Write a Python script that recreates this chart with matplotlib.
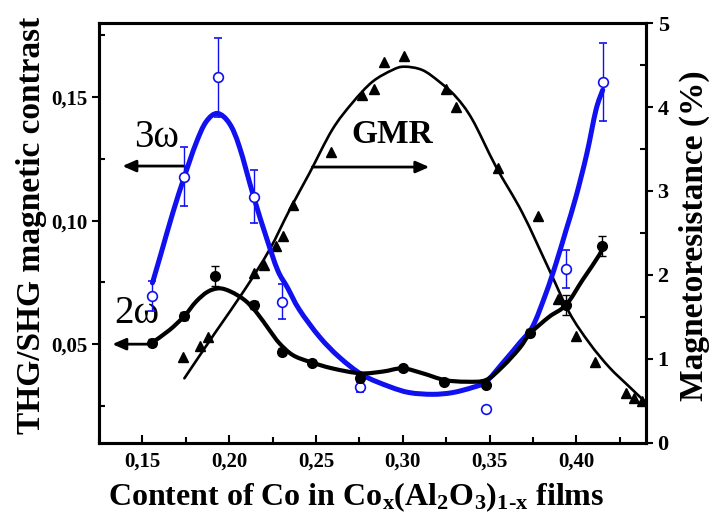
import matplotlib
matplotlib.use('Agg')
import numpy as np
import matplotlib.pyplot as plt
from matplotlib.path import Path
from matplotlib.patches import PathPatch
from matplotlib.ticker import FixedLocator, FixedFormatter, MultipleLocator

plt.rcParams['font.family'] = ['Liberation Serif', 'DejaVu Serif']
plt.rcParams['font.weight'] = 'bold'
plt.rcParams['mathtext.fontset'] = 'custom'
plt.rcParams['mathtext.rm'] = 'Liberation Serif:bold'
plt.rcParams['mathtext.it'] = 'Liberation Serif:bold'
plt.rcParams['mathtext.bf'] = 'Liberation Serif:bold'

# Co content of the films
x_3w = [0.1558, 0.1742, 0.1934, 0.2141, 0.2305, 0.2756, 0.3480, 0.3940, 0.4155]
y_3w = [0.0695, 0.1178, 0.1580, 0.1097, 0.0672, 0.0328, 0.0236, 0.0803, 0.1562]
err_3w = [0.006, 0.012, 0.016, 0.0107, 0.007, 0.002, 0.0, 0.0077, 0.0157]

x_2w = [0.1556, 0.1742, 0.1916, 0.2145, 0.2305, 0.2479, 0.2756, 0.3000, 0.3240,
        0.3480, 0.3735, 0.3940, 0.4150]
y_2w = [0.0506, 0.0614, 0.0776, 0.0659, 0.0470, 0.0425, 0.0362, 0.0402, 0.0348,
        0.0335, 0.0547, 0.0659, 0.0897]
err_2w = [0.0015, 0.0015, 0.004, 0.0015, 0.0015, 0.001, 0.001, 0.001, 0.001,
          0.001, 0.0015, 0.004, 0.004]

x_gmr = [0.1732, 0.1832, 0.1880, 0.2145, 0.2203, 0.2270, 0.2308, 0.2366, 0.2587,
         0.2767, 0.2836, 0.2894, 0.3009, 0.3250, 0.3307, 0.3547, 0.3777, 0.3893,
         0.3998, 0.4109, 0.4286, 0.4334, 0.4377]
mr_gmr = [1.02, 1.155, 1.265, 2.02, 2.12, 2.34, 2.46, 2.83, 3.46,
          4.14, 4.22, 4.54, 4.61, 4.22, 4.00, 3.27, 2.70, 1.72,
          1.27, 0.96, 0.59, 0.53, 0.50]

# fitted curves
fit3_x = [0.1558, 0.1608, 0.1675, 0.1742, 0.1809, 0.1867, 0.1932, 0.2001, 0.2059,
          0.2141, 0.2213, 0.2279, 0.2335, 0.2404, 0.2520, 0.2635, 0.2769, 0.2924,
          0.3038, 0.3172, 0.3287, 0.3403, 0.3480, 0.3575, 0.3672, 0.3748, 0.3825,
          0.3883, 0.3941, 0.3998, 0.4060, 0.4113, 0.4152]
fit3_y = [0.0748, 0.0868, 0.1031, 0.1178, 0.1313, 0.1400, 0.1434, 0.1394, 0.1299,
          0.1097, 0.0935, 0.0800, 0.0730, 0.0640, 0.0530, 0.0447, 0.0375, 0.0328,
          0.0304, 0.0297, 0.0304, 0.0325, 0.0348, 0.0423, 0.0504, 0.0571, 0.0706,
          0.0827, 0.0962, 0.1097, 0.1270, 0.1448, 0.1529]

fit2_x = [0.1556, 0.1656, 0.1742, 0.1809, 0.1876, 0.1944, 0.2011, 0.2088, 0.2155,
          0.2232, 0.2289, 0.2366, 0.2462, 0.2594, 0.2756, 0.2884, 0.2999, 0.3115,
          0.3240, 0.3365, 0.3480, 0.3575, 0.3672, 0.3735, 0.3844, 0.3941, 0.4036,
          0.4132, 0.4151]
fit2_y = [0.0506, 0.0557, 0.0614, 0.0672, 0.0712, 0.0726, 0.0712, 0.0679, 0.0631,
          0.0557, 0.0504, 0.0456, 0.0429, 0.0402, 0.0382, 0.0389, 0.0402, 0.0382,
          0.0355, 0.0348, 0.0355, 0.0409, 0.0483, 0.0544, 0.0611, 0.0659, 0.0760,
          0.0861, 0.0897]

fitg_x = [0.1742, 0.1915, 0.2088, 0.2232, 0.2347, 0.2462, 0.2594, 0.2710, 0.2825,
          0.2940, 0.3009, 0.3113, 0.3211, 0.3307, 0.3401, 0.3537, 0.3689, 0.3844,
          0.3960, 0.4075, 0.4190, 0.4305, 0.4401]
fitg_y = [0.77, 1.30, 1.82, 2.30, 2.77, 3.21, 3.73, 4.05, 4.30,
          4.44, 4.48, 4.44, 4.30, 4.12, 3.85, 3.29, 2.74, 2.06,
          1.55, 1.19, 0.90, 0.67, 0.48]

x_ticks = [0.15, 0.20, 0.25, 0.30, 0.35, 0.40]
x_labels = ['0,15', '0,20', '0,25', '0,30', '0,35', '0,40']
y_ticks = [0.05, 0.10, 0.15]
y_labels = ['0,05', '0,10', '0,15']
mr_ticks = [0, 1, 2, 3, 4, 5]

BLUE = '#1010f0'


def smooth_path(xs, ys):
    # cubic Bezier segments through the points (Catmull-Rom tangents)
    p = np.column_stack([xs, ys])
    ext = np.vstack([p[0], p, p[-1]])
    verts = [p[0]]
    codes = [Path.MOVETO]
    for i in range(len(p) - 1):
        p0, p1, p2, p3 = ext[i], ext[i + 1], ext[i + 2], ext[i + 3]
        verts += [p1 + (p2 - p0) / 6, p2 - (p3 - p1) / 6, p2]
        codes += [Path.CURVE4] * 3
    return Path(verts, codes)


def draw_curve(a, xs, ys, **kw):
    a.add_patch(PathPatch(smooth_path(xs, ys), fill=False, capstyle='round',
                          joinstyle='round', **kw))


fig = plt.figure(figsize=(7.12, 5.23), dpi=100)
ax = fig.add_axes([0.139, 0.153, 0.768, 0.803])
ax2 = ax.twinx()
ax.set_zorder(ax2.get_zorder() + 1)
ax.patch.set_visible(False)

# GMR on the right axis
draw_curve(ax2, fitg_x, fitg_y, edgecolor='black', lw=1.9)
ax2.plot(x_gmr, mr_gmr, ls='none', marker='^', ms=7, color='black')
ax2.set_ylim(0, 5)

# 3w and 2w on the left axis
draw_curve(ax, fit3_x, fit3_y, edgecolor=BLUE, lw=3.6, zorder=2)
ax.errorbar(x_3w, y_3w, yerr=err_3w, fmt='o', ms=7, mfc='white', mec=BLUE, mew=1.2,
            ecolor=BLUE, elinewidth=1.0, capsize=3, capthick=1.0, zorder=4)
draw_curve(ax, fit2_x, fit2_y, edgecolor='black', lw=3.0, zorder=3)
ax.errorbar(x_2w, y_2w, yerr=err_2w, fmt='o', ms=7, color='black',
            elinewidth=1.0, capsize=3, capthick=1.0, zorder=4)

ax.set_xlim(0.125, 0.44)
ax.set_ylim(0.01, 0.18)

# curve labels with arrows pointing to their axes
arrow = dict(arrowstyle='-|>,head_length=0.8,head_width=0.35', lw=2, color='black',
             shrinkA=0, shrinkB=0)
ax.annotate('', xy=(0.1385, 0.1221), xytext=(0.1742, 0.1221), arrowprops=arrow)
ax.annotate('', xy=(0.1327, 0.0500), xytext=(0.1556, 0.0500), arrowprops=arrow)
ax.annotate('', xy=(0.3153, 0.1217), xytext=(0.2479, 0.1217), arrowprops=arrow)
ax.text(0.1581, 0.1335, '3ω', fontsize=28, fontweight='normal', ha='center', va='center')
ax.text(0.1465, 0.0626, '2ω', fontsize=28, fontweight='normal', ha='center', va='center')
ax.text(0.2940, 0.1347, 'GMR', fontsize=24, fontweight='bold', ha='center', va='center')

ax.xaxis.set_major_locator(FixedLocator(x_ticks))
ax.xaxis.set_major_formatter(FixedFormatter(x_labels))
ax.xaxis.set_minor_locator(MultipleLocator(0.025))
ax.yaxis.set_major_locator(FixedLocator(y_ticks))
ax.yaxis.set_major_formatter(FixedFormatter(y_labels))
ax.yaxis.set_minor_locator(MultipleLocator(0.025))
ax2.yaxis.set_major_locator(FixedLocator(mr_ticks))
ax2.yaxis.set_minor_locator(MultipleLocator(0.5))

ax.tick_params(axis='x', which='both', direction='in', top=False, labelsize=15, width=1.5)
ax.tick_params(axis='x', which='major', length=6, pad=6)
ax.tick_params(axis='x', which='minor', length=4)
ax.tick_params(axis='y', which='major', direction='out', length=5, width=1.5, labelsize=15)
ax.tick_params(axis='y', which='minor', direction='in', length=4, width=1.5)
ax2.tick_params(axis='y', which='major', direction='out', length=5, width=1.5, labelsize=16)
ax2.tick_params(axis='y', which='minor', direction='in', length=4, width=1.5)

for a in (ax, ax2):
    for s in a.spines.values():
        s.set_linewidth(2.2)

ax.set_ylabel('THG/SHG magnetic contrast', fontsize=24, fontweight='bold', labelpad=3)
ax.yaxis.label.set_y(0.517)
ax2.set_ylabel('Magnetoresistance (%)', fontsize=24, fontweight='bold', labelpad=7)
ax2.yaxis.label.set_y(0.493)
ax.set_xlabel('Content of Co in Co$_\\mathrm{x}$(Al$_\\mathrm{2}$O$_\\mathrm{3}$)$_{\\mathrm{1}\\text{-}\\mathrm{x}}$ films',
              fontsize=23, fontweight='bold')
ax.xaxis.set_label_coords(0.47, -0.088)

fig.savefig('out.png', dpi=100)
